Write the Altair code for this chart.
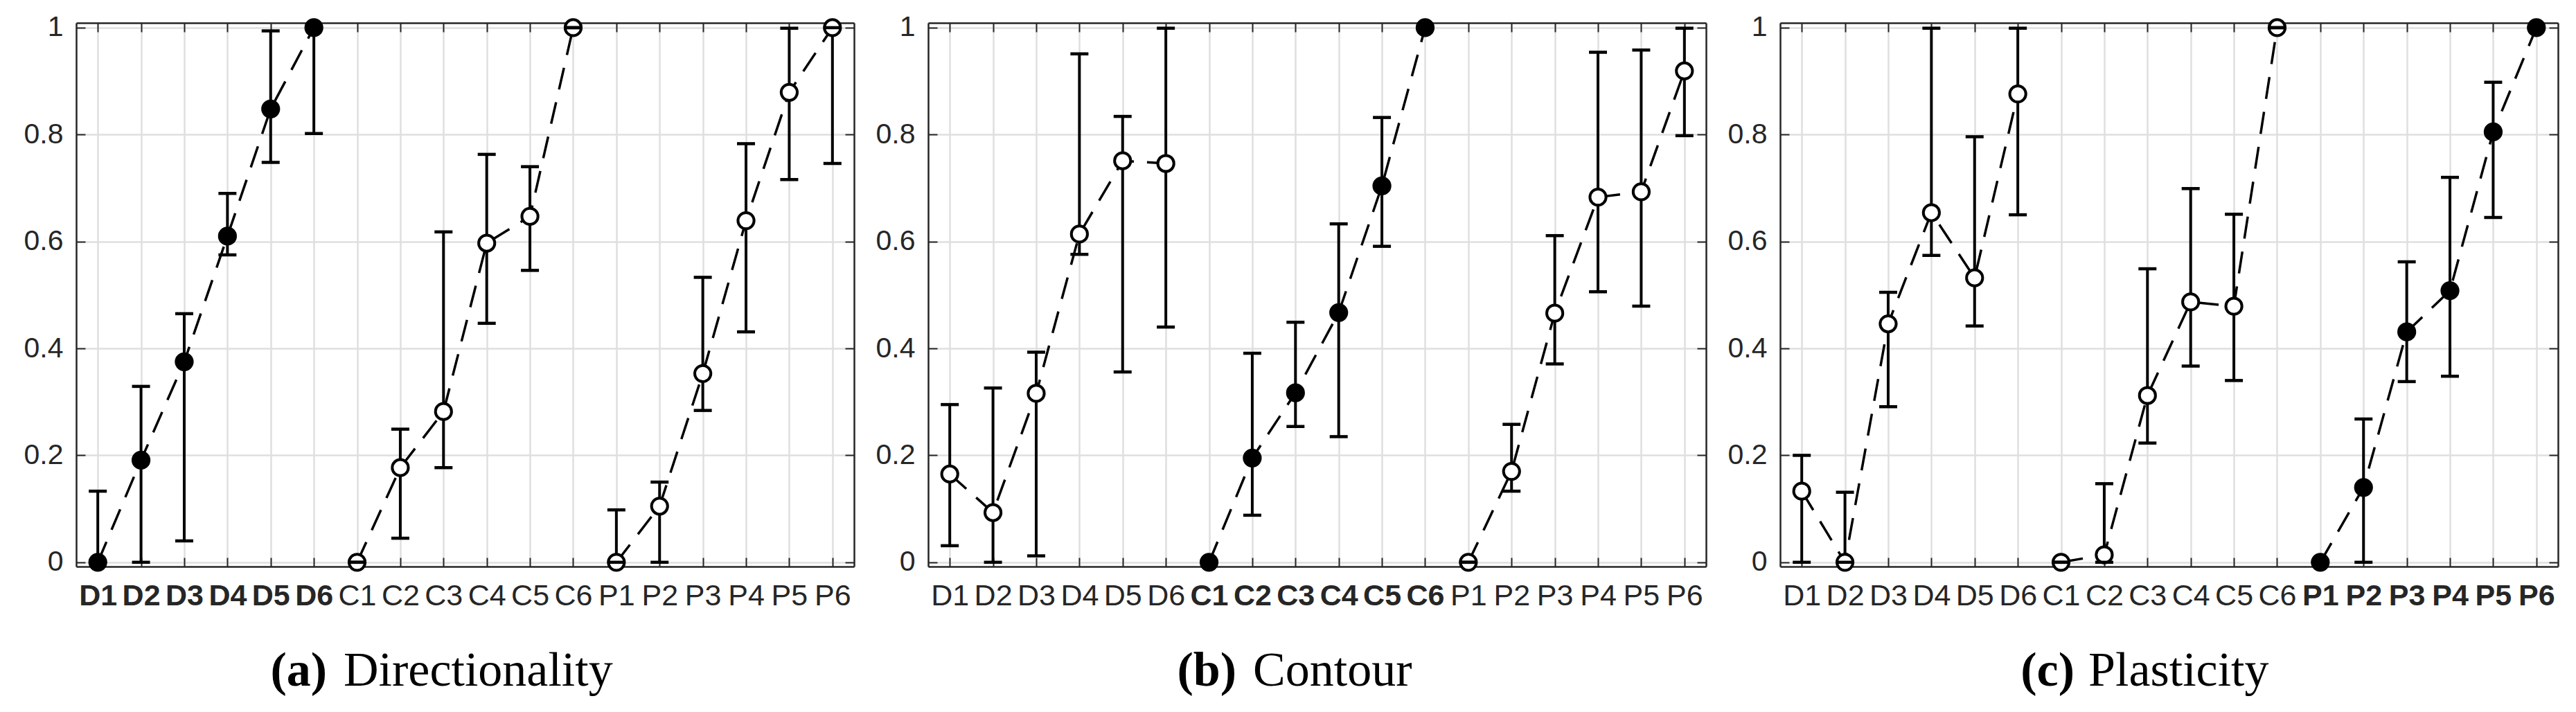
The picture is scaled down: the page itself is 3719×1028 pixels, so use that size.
import altair as alt
import pandas as pd

# ---------------- data ----------------
labels = ["D1", "D2", "D3", "D4", "D5", "D6",
          "C1", "C2", "C3", "C4", "C5", "C6",
          "P1", "P2", "P3", "P4", "P5", "P6"]
groups = ["D"] * 6 + ["C"] * 6 + ["P"] * 6
order_idx = list(range(18))

# (a) Directionality
dir_mean = [0.000, 0.191, 0.375, 0.610, 0.848, 1.000,
            0.000, 0.177, 0.282, 0.597, 0.647, 1.000,
            0.000, 0.105, 0.353, 0.639, 0.879, 1.000]
dir_lo = [0.000, 0.000, 0.040, 0.575, 0.748, 0.802,
          0.000, 0.045, 0.177, 0.447, 0.546, 1.000,
          0.000, 0.000, 0.284, 0.431, 0.716, 0.746]
dir_hi = [0.133, 0.329, 0.465, 0.690, 0.994, 1.000,
          0.000, 0.249, 0.618, 0.763, 0.740, 1.000,
          0.098, 0.150, 0.533, 0.783, 0.999, 1.000]

# (b) Contour
con_mean = [0.165, 0.093, 0.316, 0.614, 0.751, 0.746,
            0.000, 0.195, 0.317, 0.467, 0.704, 1.000,
            0.000, 0.170, 0.466, 0.683, 0.693, 0.919]
con_lo = [0.031, 0.000, 0.012, 0.576, 0.356, 0.440,
          0.000, 0.088, 0.254, 0.235, 0.591, 1.000,
          0.000, 0.133, 0.371, 0.506, 0.479, 0.798]
con_hi = [0.295, 0.326, 0.393, 0.951, 0.834, 0.999,
          0.000, 0.391, 0.449, 0.633, 0.832, 1.000,
          0.000, 0.258, 0.611, 0.954, 0.958, 0.999]

# (c) Plasticity
pla_mean = [0.133, 0.000, 0.446, 0.654, 0.532, 0.876,
            0.000, 0.014, 0.312, 0.487, 0.479, 1.000,
            0.000, 0.140, 0.431, 0.508, 0.805, 1.000]
pla_lo = [0.000, 0.000, 0.291, 0.574, 0.442, 0.650,
          0.000, 0.000, 0.223, 0.367, 0.340, 1.000,
          0.000, 0.000, 0.338, 0.348, 0.645, 1.000]
pla_hi = [0.200, 0.131, 0.505, 0.999, 0.796, 0.999,
          0.000, 0.147, 0.549, 0.699, 0.651, 1.000,
          0.000, 0.268, 0.562, 0.720, 0.898, 1.000]

y_ticks = [0, 0.2, 0.4, 0.6, 0.8, 1]

# ---------------- style ----------------
W, H = 1123, 785
Y_DOMAIN = [-0.008, 1.009]
FONT = "Liberation Sans"
SERIF = "Liberation Serif"
INK = "#262626"
GRID = "#dfdfdf"


def tick_axis(orient, offset, values=None):
    # inward-pointing ticks plus the box edge opposite to the axis orient
    kw = dict(orient=orient, offset=offset, labels=False, ticks=True,
              tickSize=13, tickWidth=2, tickColor=INK, domain=True,
              domainColor=INK, domainWidth=2.5, grid=False, title=None)
    if values is not None:
        kw["values"] = values
    return alt.Axis(**kw)


def panel(mean, lo, hi, bold_group, letter, name, letter_x, name_x):
    df = pd.DataFrame({"label": labels, "group": groups, "idx": order_idx,
                       "mean": mean, "lo": lo, "hi": hi})
    base = alt.Chart(df)
    xs = alt.Scale(type="point", domain=labels, padding=0.5)
    ys = alt.Scale(domain=Y_DOMAIN, nice=False, zero=False)

    bold = {"condition": {"test": f"substring(datum.value, 0, 1) === '{bold_group}'",
                          "value": "bold"}, "value": "normal"}

    x_lab = alt.Axis(orient="bottom", title=None, labelAngle=0, labelFont=FONT,
                     labelFontSize=43, labelColor=INK, labelPadding=21,
                     labelFontWeight=bold, ticks=False, domain=False, grid=True,
                     gridColor=GRID, gridWidth=2.5, labelOverlap=False)
    y_lab = alt.Axis(orient="left", title=None, values=y_ticks, format="~g",
                     labelFont=FONT, labelFontSize=41, labelColor=INK,
                     labelPadding=19, ticks=False, domain=False, grid=True,
                     gridColor=GRID, gridWidth=2.5)

    rules = base.mark_rule(color="black", strokeWidth=4).encode(
        x=alt.X("label:N", scale=xs, sort=labels, axis=tick_axis("top", -H)),
        y=alt.Y("lo:Q", scale=ys, axis=tick_axis("right", -W, y_ticks)),
        y2="hi:Q",
    )
    line = base.mark_line(color="black", strokeWidth=3.5, strokeDash=[32, 19]).encode(
        x=alt.X("label:N", scale=xs, sort=labels, axis=x_lab),
        y=alt.Y("mean:Q", scale=ys, axis=y_lab),
        detail="group:N",
        order="idx:Q",
    )
    points = base.mark_point(shape="circle", filled=True, size=540, stroke="black",
                             strokeWidth=4, opacity=1).encode(
        x=alt.X("label:N", scale=xs, sort=labels, axis=tick_axis("bottom", -H)),
        y=alt.Y("mean:Q", scale=ys, axis=tick_axis("left", -W, y_ticks)),
        fill=alt.condition(f"datum.group === '{bold_group}'",
                           alt.value("black"), alt.value("white")),
    )
    cap_lo = base.mark_tick(color="black", thickness=4.5, size=26, opacity=1,
                            orient="horizontal").encode(
        x=alt.X("label:N", scale=xs, sort=labels, axis=None),
        y=alt.Y("lo:Q", scale=ys, axis=None),
    )
    cap_hi = base.mark_tick(color="black", thickness=4.5, size=26, opacity=1,
                            orient="horizontal").encode(
        x=alt.X("label:N", scale=xs, sort=labels, axis=None),
        y=alt.Y("hi:Q", scale=ys, axis=None),
    )
    tdf = pd.DataFrame({"letter": [letter], "name": [name]})
    t_letter = alt.Chart(tdf).mark_text(font=SERIF, fontSize=70, fontWeight="bold",
                                        align="right", baseline="alphabetic",
                                        color="black").encode(
        text="letter:N", x=alt.value(letter_x), y=alt.value(957))
    t_name = alt.Chart(tdf).mark_text(font=SERIF, fontSize=70, fontWeight="normal",
                                      align="left", baseline="alphabetic",
                                      color="black").encode(
        text="name:N", x=alt.value(name_x), y=alt.value(957))

    return alt.layer(rules, line, points, cap_lo, cap_hi, t_letter, t_name).resolve_axis(
        x="independent", y="independent"
    ).properties(width=W, height=H)


pa = panel(dir_mean, dir_lo, dir_hi, "D", "(a)", "Directionality", 362, 386)
pb = panel(con_mean, con_lo, con_hi, "C", "(b)", "Contour", 445, 469)
pc = panel(pla_mean, pla_lo, pla_hi, "P", "(c)", "Plasticity", 425, 445)

chart = alt.hconcat(pa, pb, pc, spacing=28).properties(
    padding={"left": 25, "top": 10, "right": 5, "bottom": 5}
).configure_view(stroke=INK, strokeWidth=2.5).configure(background="white")

chart.save("out.html", embed_options={"renderer": "svg", "actions": False})
